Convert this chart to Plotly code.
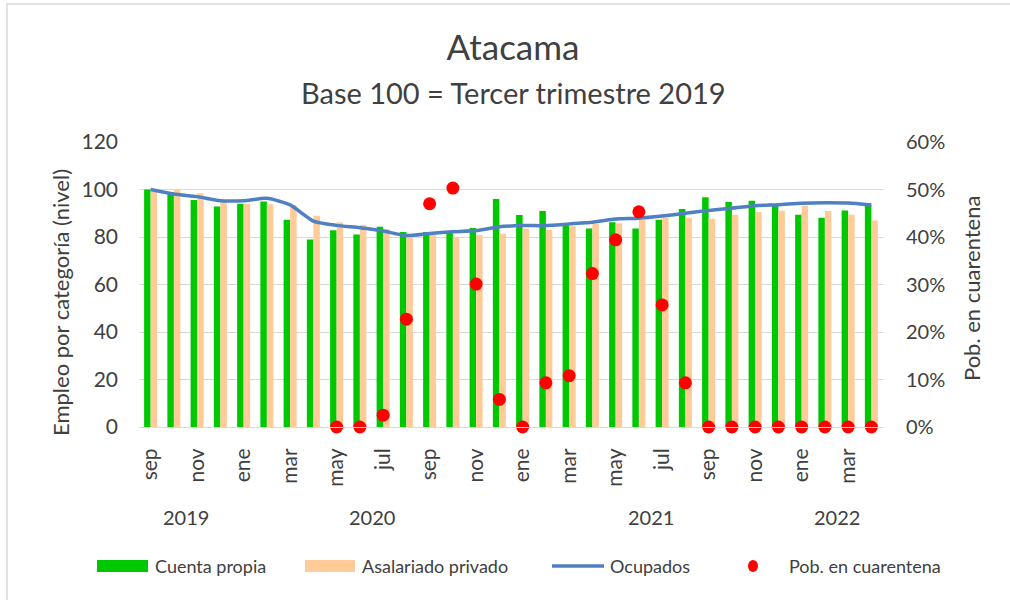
import plotly.graph_objects as go

# ---- data ----
months = ["sep", "oct", "nov", "dic",
          "ene", "feb", "mar", "abr", "may", "jun", "jul", "ago", "sep", "oct", "nov", "dic",
          "ene", "feb", "mar", "abr", "may", "jun", "jul", "ago", "sep", "oct", "nov", "dic",
          "ene", "feb", "mar", "abr"]
years = ["2019"] * 4 + ["2020"] * 12 + ["2021"] * 12 + ["2022"] * 4

cuenta_propia = [100, 98.9, 95.6, 92.8, 94.0, 94.9, 87.3, 78.9, 82.8, 81.1, 84.3, 82.1,
                 82.1, 82.4, 83.8, 96.0, 89.3, 90.9, 84.6, 83.6, 86.2, 83.6, 87.3, 91.8,
                 96.7, 94.7, 95.3, 93.2, 89.4, 88.1, 91.2, 93.5]
asalariado_privado = [99.2, 100, 98.4, 94.9, 94.0, 93.8, 93.5, 89.0, 86.2, 85.1, 83.4, 80.5,
                      80.8, 80.0, 80.8, 81.4, 83.6, 83.1, 84.5, 85.5, 85.8, 87.2, 88.1, 88.1,
                      87.7, 89.4, 90.5, 91.1, 93.2, 90.9, 89.4, 87.0]
ocupados = [100, 98.1, 97.0, 95.3, 95.3, 96.3, 93.5, 86.7, 84.9, 83.9, 82.5, 80.6,
            81.5, 82.2, 82.7, 84.3, 84.8, 84.8, 85.5, 86.2, 87.6, 87.9, 88.8, 90.0,
            91.2, 92.1, 93.2, 93.6, 94.2, 94.4, 94.3, 93.5]
cuarentena = [None, None, None, None, None, None, None, None,
              0.0, 0.0, 0.025, 0.227, 0.47, 0.503, 0.301, 0.058, 0.0, 0.093, 0.108, 0.323,
              0.394, 0.453, 0.257, 0.093, 0.0, 0.0, 0.0, 0.0, 0.0, 0.0, 0.0, 0.0]

x = list(range(len(months)))
FONT = "Lato, 'Open Sans', 'Liberation Sans', sans-serif"
TXT = "#404040"
GRID = "#D9D9D9"
C_CP, C_AS, C_OC, C_PQ = "#00C800", "#FFCC99", "#4F81C2", "#FF0000"

# figure geometry (pixels)
W, H = 1010, 600
L, R, T, B = 139, 127, 142, 173
pw, ph = W - L - R, H - T - B


def px_x(p):
    return (p - L) / pw


def px_y(p):
    return (H - B - p) / ph


fig = go.Figure()
fig.add_trace(go.Bar(x=x, y=cuenta_propia, name="Cuenta propia",
                     marker=dict(color=C_CP, line=dict(width=0))))
fig.add_trace(go.Bar(x=x, y=asalariado_privado, name="Asalariado privado",
                     marker=dict(color=C_AS, line=dict(width=0))))
fig.add_trace(go.Scatter(x=x, y=ocupados, name="Ocupados", mode="lines",
                         line=dict(color=C_OC, width=3.5, shape="spline", smoothing=0.6)))
fig.add_trace(go.Scatter(x=x, y=cuarentena, name="Pob. en cuarentena", mode="markers",
                         marker=dict(color=C_PQ, size=13), yaxis="y2", cliponaxis=False))

tickvals = x[::2]
ticktext = months[::2]

fig.update_layout(
    width=W, height=H,
    margin=dict(l=L, r=R, t=T, b=B, autoexpand=False),
    paper_bgcolor="white", plot_bgcolor="white",
    font=dict(family=FONT, color=TXT),
    barmode="group", bargap=0.44, bargroupgap=0.0,
    showlegend=False,
    title=dict(text="Atacama", x=px_x(513), xref="paper", xanchor="center",
               y=1 - 48 / H, yanchor="middle", font=dict(size=35, color=TXT, family=FONT)),
    xaxis=dict(range=[-0.5, len(x) - 0.5], tickmode="array", tickvals=tickvals, ticktext=ticktext,
               tickangle=-90, tickfont=dict(size=21, color=TXT, family=FONT), ticks="",
               ticklabelstandoff=12, showgrid=False, showline=True, linecolor=GRID, linewidth=1,
               zeroline=False),
    yaxis=dict(range=[0, 120], dtick=20, showgrid=True, gridcolor=GRID, gridwidth=1,
               zeroline=False, showline=False, ticks="", ticklabelstandoff=20,
               tickfont=dict(size=21, color=TXT, family=FONT)),
    yaxis2=dict(range=[0, 0.6], dtick=0.1, tickformat=".0%", overlaying="y", side="right",
                showgrid=False, zeroline=False, showline=False, ticks="", ticklabelstandoff=22,
                tickfont=dict(size=20, color=TXT, family=FONT)),
)

annotations = [
    dict(text="Base 100 = Tercer trimestre 2019", x=px_x(513), y=px_y(93), xref="paper", yref="paper",
         showarrow=False, font=dict(size=29, color=TXT, family=FONT), xanchor="center", yanchor="middle"),
    dict(text="Empleo por categoría (nivel)", x=px_x(60), y=px_y(303), xref="paper", yref="paper",
         showarrow=False, textangle=-90, font=dict(size=22, color=TXT, family=FONT),
         xanchor="center", yanchor="middle"),
    dict(text="Pob. en cuarentena", x=px_x(971), y=px_y(288), xref="paper", yref="paper",
         showarrow=False, textangle=-90, font=dict(size=22, color=TXT, family=FONT),
         xanchor="center", yanchor="middle"),
]
# year labels centred under their months
for yr in dict.fromkeys(years):
    idx = [i for i, v in enumerate(years) if v == yr]
    annotations.append(dict(text=yr, x=sum(idx) / len(idx), y=px_y(517), xref="x", yref="paper",
                            showarrow=False, font=dict(size=20, color=TXT, family=FONT),
                            xanchor="center", yanchor="middle"))

# legend (drawn as key shapes + labels, laid out like the original)
LEG_Y = 566
legend_items = [
    ("rect", C_CP, 97, 148, "Cuenta propia", 153),
    ("rect", C_AS, 305, 355, "Asalariado privado", 360),
    ("line", C_OC, 552, 604, "Ocupados", 608),
    ("dot", C_PQ, 748, 758, "Pob. en cuarentena", 787),
]
shapes = []
for kind, col, x0, x1, label, tx in legend_items:
    if kind == "rect":
        shapes.append(dict(type="rect", xref="paper", yref="paper", x0=px_x(x0), x1=px_x(x1),
                           y0=px_y(LEG_Y + 6), y1=px_y(LEG_Y - 6), fillcolor=col, line=dict(width=0)))
    elif kind == "line":
        shapes.append(dict(type="line", xref="paper", yref="paper", x0=px_x(x0), x1=px_x(x1),
                           y0=px_y(LEG_Y), y1=px_y(LEG_Y), line=dict(color=col, width=3.5)))
    else:
        shapes.append(dict(type="circle", xref="paper", yref="paper", x0=px_x(x0), x1=px_x(x1),
                           y0=px_y(LEG_Y + 6), y1=px_y(LEG_Y - 6), fillcolor=col, line=dict(width=0)))
    annotations.append(dict(text=label, x=px_x(tx), y=px_y(LEG_Y), xref="paper", yref="paper",
                            showarrow=False, font=dict(size=18, color=TXT, family=FONT),
                            xanchor="left", yanchor="middle"))

# chart-area border (left and top edges visible)
shapes.append(dict(type="rect", xref="paper", yref="paper",
                   x0=px_x(7), x1=px_x(1015), y0=px_y(605), y1=px_y(4),
                   line=dict(color=GRID, width=1.5), fillcolor="rgba(0,0,0,0)", layer="below"))

fig.update_layout(annotations=annotations, shapes=shapes)

fig.write_html("out.html", config={"displayModeBar": False},
               post_script="document.body.style.margin='0';")
